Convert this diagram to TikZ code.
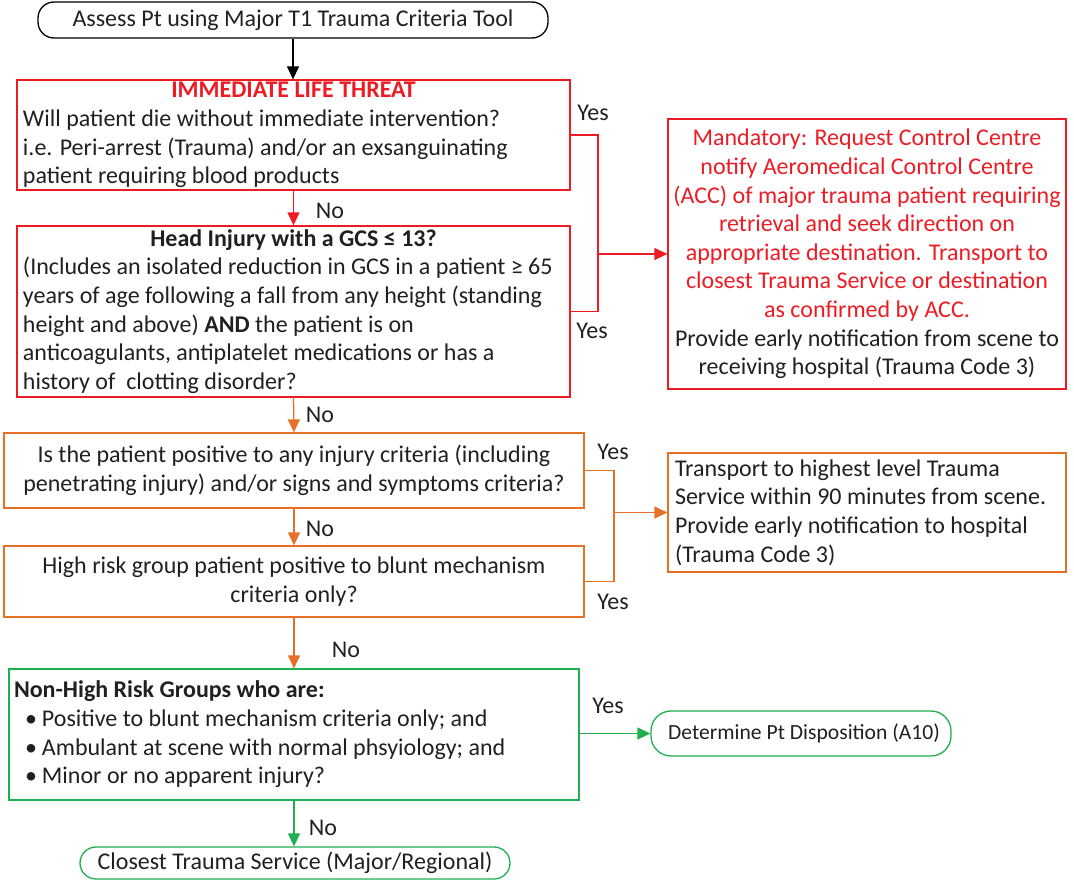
\documentclass[tikz,border=0pt]{standalone}
\usepackage{fontspec}
\setmainfont{Carlito}
\usetikzlibrary{arrows.meta}
\definecolor{tred}{RGB}{237,28,36}
\definecolor{tora}{RGB}{230,112,40}
\definecolor{tgrn}{RGB}{30,176,80}
\definecolor{ttxt}{RGB}{35,31,32}
\begin{document}
\begin{tikzpicture}[x=1pt,y=-1pt,
  font=\fontsize{24}{28.6}\selectfont, text=ttxt,
  cbox/.style={draw, line width=1.3pt, rectangle, inner sep=0pt, align=center},
  lbox/.style={draw, line width=1.3pt, rectangle, inner ysep=0pt, inner xsep=6pt, align=flush left},
  term/.style={draw, line width=1.3pt, rectangle, rounded corners=16pt, inner sep=0pt, align=center},
  arr/.style={-{Triangle[length=13pt,width=12pt]}, line width=1.3pt},
  lnk/.style={line width=1.3pt},
  lab/.style={inner sep=0pt}]
\useasboundingbox (0,0) rectangle (1074,880);

% nodes
\node[term, draw=black, minimum width=510, minimum height=36] (start) at (293,20)
  {Assess Pt using Major T1 Trauma Criteria Tool};
\node[lbox, draw=tred, text width=541, minimum height=110] (b1) at (293.5,135)
  {\makebox[\linewidth]{\color{tred}\bfseries IMMEDIATE LIFE THREAT}\\
   Will patient die without immediate intervention?\\
   i.e. Peri-arrest (Trauma) and/or an exsanguinating\\
   patient requiring blood products};
\node[lbox, draw=tred, text width=541, minimum height=171] (b2) at (293.5,311.5)
  {\makebox[\linewidth]{\bfseries Head Injury with a GCS ≤ 13?}\\
   \mbox{(Includes an isolated reduction in GCS in a patient ≥ 65}\\
   years of age following a fall from any height (standing\\
   height and above) \textbf{AND} the patient is on\\
   anticoagulants, antiplatelet medications or has a\\
   history of\ \ clotting disorder?};
\node[cbox, draw=tred, text=tred, minimum width=398, minimum height=270] (mand) at (867,254)
  {Mandatory: Request Control Centre\\
   notify Aeromedical Control Centre\\
   (ACC) of major trauma patient requiring\\
   retrieval and seek direction on\\
   appropriate destination. Transport to\\
   closest Trauma Service or destination\\
   as confirmed by ACC.\\
   \textcolor{ttxt}{Provide early notification from scene to}\\
   \textcolor{ttxt}{receiving hospital (Trauma Code 3)}};
\node[cbox, draw=tora, minimum width=580, minimum height=75] (o1) at (294,470.5)
  {Is the patient positive to any injury criteria (including\\
   penetrating injury) and/or signs and symptoms criteria?};
\node[cbox, draw=tora, minimum width=580, minimum height=71] (o2) at (294,581.5)
  {High risk group patient positive to blunt mechanism\\
   criteria only?};
\node[lbox, draw=tora, inner xsep=7pt, text width=384, minimum height=119] (trans) at (867,512.5)
  {Transport to highest level Trauma\\
   Service within 90 minutes from scene.\\
   Provide early notification to hospital\\
   (Trauma Code 3)};
\node[lbox, draw=tgrn, inner xsep=5pt, text width=560, minimum height=131] (g) at (294,734.5)
  {\textbf{Non-High Risk Groups who are:}\\
   \hspace*{11pt}•\hspace{5pt}Positive to blunt mechanism criteria only; and\\
   \hspace*{11pt}•\hspace{5pt}Ambulant at scene with normal phsyiology; and\\
   \hspace*{11pt}•\hspace{5pt}Minor or no apparent injury?};
\node[term, draw=tgrn, rounded corners=20pt, minimum width=300, minimum height=45,
  font=\fontsize{21.6}{25}\selectfont] (det) at (801,733.5)
  {\hspace*{6pt}Determine Pt Disposition (A10)};
\node[term, draw=tgrn, minimum width=430, minimum height=32] (close) at (295,863)
  {Closest Trauma Service (Major/Regional)};

% junction points
\coordinate (j1) at (598,254);
\coordinate (j2) at (614,512.5);

% connectors
\draw[arr, black] (start.south) -- (b1.north -| start.south);
\draw[arr, tred] (b1.south) -- (b2.north);
\draw[lnk, tred] (b1.east) -| (j1);
\draw[lnk, tred] (b2.east) -| (j1);
\draw[arr, tred] (j1) -- (mand.west);
\draw[arr, tora] (b2.south) -- (o1.south |- o1.north);
\draw[arr, tora] (o1.south) -- (o2.north);
\draw[lnk, tora] (o1.east) -| (j2);
\draw[lnk, tora] (o2.east) -| (j2);
\draw[arr, tora] (j2) -- (trans.west);
\draw[arr, tora] (o2.south) -- (g.north);
\draw[arr, tgrn] (g.east |- det.west) -- (det.west);
\draw[arr, tgrn] (g.south) -- (close.north -| g.south);

% labels
\node[lab] (y1) at (593,113) {Yes};
\node[lab] (y2) at (592,331) {Yes};
\node[lab] (y3) at (613,452) {Yes};
\node[lab] (y4) at (613,602) {Yes};
\node[lab] (y5) at (608,706) {Yes};
\node[lab] (n1) at (330,211) {No};
\node[lab] (n2) at (320,415) {No};
\node[lab] (n3) at (320,529) {No};
\node[lab] (n4) at (346,650) {No};
\node[lab] (n5) at (323,828) {No};
\end{tikzpicture}
\end{document}
